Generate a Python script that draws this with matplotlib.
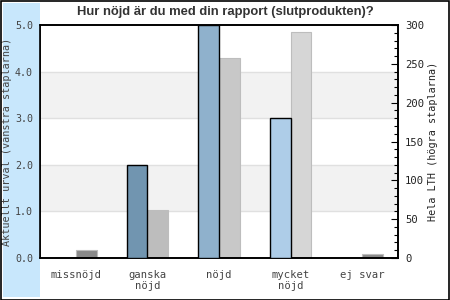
import matplotlib
matplotlib.use('Agg')
import matplotlib.pyplot as plt
from matplotlib.patches import Rectangle
from matplotlib.ticker import MultipleLocator
import numpy as np

# --- Data ---
categories = ['missnöjd', 'ganska\nnöjd', 'nöjd', 'mycket\nnöjd', 'ej svar']
urval_values = [0, 2, 5, 3, 0]            # left axis (Aktuellt urval)
lth_values = [10, 62, 257, 291, 5]         # right axis (Hela LTH)

title = 'Hur nöjd är du med din rapport (slutprodukten)?'
left_label = 'Aktuellt urval (vänstra staplarna)'
right_label = 'Hela LTH (högra staplarna)'

urval_colors = ['#7195b0', '#7195b0', '#8fb1cc', '#aecde8', '#7195b0']
lth_colors = ['#8a8a8a', '#bdbdbd', '#c8c8c8', '#d6d6d6', '#8a8a8a']
lth_edges = ['#bdbdbd', '#bdbdbd', '#bdbdbd', '#bdbdbd', '#bdbdbd']

MONO = 'DejaVu Sans Mono'
TXT = '#444444'

fig = plt.figure(figsize=(4.5, 3), dpi=100)
fig.patch.set_facecolor('white')

# blue band on the left and outer frame
fig.patches.append(Rectangle((3 / 450, 3 / 300), 37 / 450, 294 / 300,
                             transform=fig.transFigure, facecolor='#c8e7fc',
                             edgecolor='none', zorder=0))
fig.patches.append(Rectangle((0.5 / 450, 0.5 / 300), 448.5 / 450, 298.5 / 300,
                             transform=fig.transFigure, facecolor='none',
                             edgecolor='black', linewidth=1.2, zorder=5))

ax = fig.add_axes([40 / 450, 42 / 300, 358 / 450, 233 / 300])
ax2 = ax.twinx()
ax.set_zorder(ax2.get_zorder() + 1)
ax.patch.set_visible(False)
ax2.patch.set_facecolor('white')

x = np.arange(len(categories))
w = 0.29

# background stripes and grid (on ax2 so they sit behind both bar sets)
for lo, hi in [(1, 2), (3, 4)]:
    ax2.axhspan(lo * 60, hi * 60, color='#f2f2f2', zorder=0, linewidth=0)
for v in [1, 2, 3, 4]:
    ax2.axhline(v * 60, color='#e0e0e0', linewidth=1, zorder=0.5)

ax2.bar(x + w / 2, lth_values, width=w, color=lth_colors,
        edgecolor=lth_edges, linewidth=0.8, zorder=2)
ax.bar(x - w / 2, urval_values, width=w, color=urval_colors,
       edgecolor='black', linewidth=1.0, zorder=3)

ax.set_xlim(-0.5, len(categories) - 0.5)
ax.set_ylim(0, 5)
ax2.set_ylim(0, 300)

ax.set_yticks([0, 1, 2, 3, 4, 5])
ax.set_yticklabels(['0.0', '1.0', '2.0', '3.0', '4.0', '5.0'],
                   fontsize=7.2, family=MONO, color=TXT)
ax.tick_params(axis='y', length=0, pad=5)
ax.set_xticks(x)
ax.set_xticklabels(categories, fontsize=7.6, family=MONO, color=TXT,
                   linespacing=1.15)
ax.tick_params(axis='x', length=0, pad=8.5)

ax2.yaxis.set_major_locator(MultipleLocator(50))
ax2.yaxis.set_minor_locator(MultipleLocator(10))
ax2.tick_params(axis='y', which='major', direction='in', length=5,
                width=0.8, pad=5, labelsize=7.6, labelcolor='#222222')
ax2.tick_params(axis='y', which='minor', direction='in', length=3, width=0.8)
for lab in ax2.get_yticklabels():
    lab.set_family(MONO)

for a in (ax, ax2):
    for s in a.spines.values():
        s.set_color('black')
        s.set_linewidth(1.2)

ax.set_ylabel(left_label, fontsize=7.3, family=MONO, color=TXT)
ax.yaxis.set_label_coords(-0.079, 0.5)
ax2.set_ylabel(right_label, fontsize=7.3, family=MONO, color='#222222')
ax2.yaxis.set_label_coords(1.084, 0.5)

fig.text(225 / 450, 1 - 11.5 / 300, title, ha='center', va='center',
         fontsize=9.4, fontweight='bold', family='Liberation Sans',
         color='#333333')

fig.savefig('out.png', dpi=100)
